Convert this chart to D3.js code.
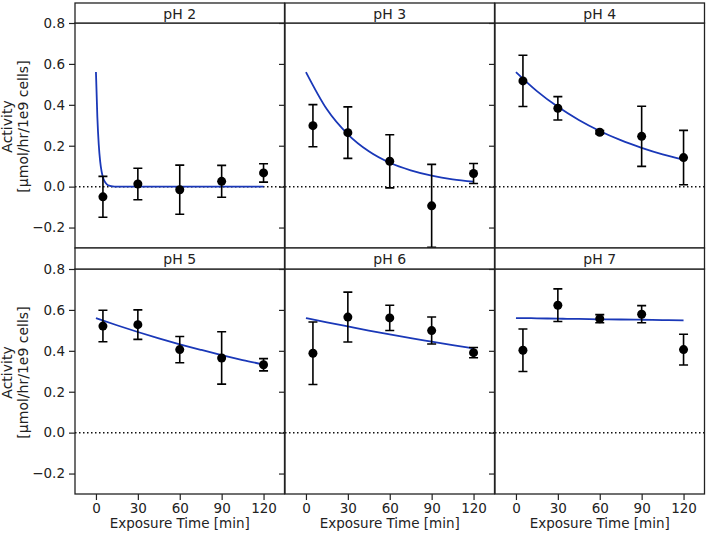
<!DOCTYPE html>
<html><head><meta charset="utf-8">
<script src="https://cdn.jsdelivr.net/npm/d3@7"></script>
<style>body{margin:0;background:#fff}svg{display:block}text{font-family:"DejaVu Sans",sans-serif;fill:#222}</style>
</head><body>
<script>
const panelTitles = ["pH 2","pH 3","pH 4","pH 5","pH 6","pH 7"];
const times = [5,30,60,90,120];
const meanPH2 = [-0.050,0.013,-0.015,0.026,0.067];
const errPH2  = [0.100,0.077,0.120,0.078,0.045];
const meanPH3 = [0.298,0.264,0.124,-0.094,0.064];
const errPH3  = [0.103,0.126,0.130,0.203,0.049];
const meanPH4 = [0.517,0.383,0.266,0.246,0.142];
const errPH4  = [0.125,0.057,0.008,0.147,0.133];
const meanPH5 = [0.521,0.528,0.406,0.365,0.332];
const errPH5  = [0.077,0.072,0.064,0.128,0.030];
const meanPH6 = [0.388,0.565,0.561,0.499,0.391];
const errPH6  = [0.153,0.122,0.062,0.066,0.025];
const meanPH7 = [0.403,0.623,0.557,0.579,0.406];
const errPH7  = [0.104,0.080,0.020,0.042,0.075];

const fitTimesFast = [0,1,2,3,4,5,6,8,10,12,15,20,30,60,90,120];
const fitPH2 = [0.56,0.34,0.206,0.125,0.076,0.046,0.028,0.010,0.004,0.0014,0.0003,0,0,0,0,0];
const fitTimes = [0,15,30,45,60,75,90,105,120];
const fitPH3 = [0.56,0.378,0.256,0.173,0.117,0.080,0.054,0.036,0.025];
const fitPH4 = [0.56,0.467,0.39,0.326,0.272,0.227,0.19,0.158,0.132];
const fitPH5 = [0.56,0.525,0.492,0.461,0.432,0.405,0.379,0.355,0.333];
const fitPH6 = [0.56,0.539,0.519,0.499,0.48,0.462,0.445,0.428,0.412];
const fitPH7 = [0.56,0.559,0.557,0.556,0.554,0.553,0.552,0.550,0.549];

const yTicks = [-0.2,0,0.2,0.4,0.6,0.8];
const xTicks = [0,30,60,90,120];

const means = [meanPH2,meanPH3,meanPH4,meanPH5,meanPH6,meanPH7];
const errs = [errPH2,errPH3,errPH4,errPH5,errPH6,errPH7];
const fits = [fitPH2,fitPH3,fitPH4,fitPH5,fitPH6,fitPH7];
const fitXs = [fitTimesFast,fitTimes,fitTimes,fitTimes,fitTimes,fitTimes];

const W=708,H=534;
const svg=d3.select("body").append("svg").attr("width",W).attr("height",H);
const colX=[75,285,495], pw=209.5;
const rowStrip=[3,248], rowTop=[23,269], ph=225;

panelTitles.forEach((title,i)=>{
  const c=i%3, r=Math.floor(i/3);
  const x0=colX[c], y0=rowTop[r];
  const x=d3.scaleLinear().domain([-15,135]).range([x0,x0+pw]);
  const y=d3.scaleLinear().domain([-0.3,0.8]).range([y0+ph,y0]);
  const g=svg.append("g");
  const cid="clip"+i;
  svg.append("clipPath").attr("id",cid).append("rect").attr("x",x0).attr("y",y0).attr("width",pw).attr("height",ph);
  const ya=g.append("g").attr("transform",`translate(${x0},0)`)
    .call(d3.axisLeft(y).tickValues(yTicks).tickSize(6).tickPadding(4).tickFormat(c===0?d3.format(".1f"):()=>""));
  ya.select(".domain").remove();
  ya.selectAll("line").attr("stroke","#222").attr("stroke-width",1.2);
  ya.selectAll("text").attr("font-size",13.5).attr("fill","#222").style("font-family","DejaVu Sans");
  if(r===1){
    const xa=g.append("g").attr("transform",`translate(0,${y0+ph})`)
      .call(d3.axisBottom(x).tickValues(xTicks).tickSize(6).tickPadding(3));
    xa.select(".domain").remove();
    xa.selectAll("line").attr("stroke","#222").attr("stroke-width",1.2);
    xa.selectAll("text").attr("font-size",13.5).attr("fill","#222").style("font-family","DejaVu Sans");
    g.append("text").attr("x",x0+pw/2).attr("y",528).attr("text-anchor","middle").attr("font-size",13.5).text("Exposure Time [min]");
  }
  const pg=g.append("g").attr("clip-path",`url(#${cid})`);
  pg.append("line").attr("x1",x0).attr("x2",x0+pw).attr("y1",y(0)).attr("y2",y(0))
    .attr("stroke","#111").attr("stroke-width",1.5).attr("stroke-dasharray","1.5,2.5");
  const fx=fitXs[i], fv=fits[i];
  const line=d3.line().x((d,j)=>x(fx[j])).y(d=>y(d)).curve(d3.curveMonotoneX);
  pg.append("path").attr("d",line(fv)).attr("fill","none").attr("stroke","#1a38b8").attr("stroke-width",1.8);
  times.forEach((t,j)=>{
    const m=means[i][j], e=errs[i][j];
    const cx=x(t);
    pg.append("line").attr("x1",cx).attr("x2",cx).attr("y1",y(m-e)).attr("y2",y(m+e)).attr("stroke","#000").attr("stroke-width",1.6);
    [m-e,m+e].forEach(v=>pg.append("line").attr("x1",cx-4.5).attr("x2",cx+4.5).attr("y1",y(v)).attr("y2",y(v)).attr("stroke","#000").attr("stroke-width",1.6));
    pg.append("circle").attr("cx",cx).attr("cy",y(m)).attr("r",4.5).attr("fill","#000");
  });
  g.append("rect").attr("x",x0).attr("y",y0).attr("width",pw).attr("height",ph).attr("fill","none").attr("stroke","#222").attr("stroke-width",1.3);
  g.append("rect").attr("x",x0).attr("y",rowStrip[r]).attr("width",pw).attr("height",rowTop[r]-rowStrip[r]).attr("fill","#fff").attr("stroke","#222").attr("stroke-width",1.3);
  g.append("text").attr("x",x0+pw/2).attr("y",rowStrip[r]+15.5).attr("text-anchor","middle").attr("font-size",14).text(title);
  if(c===0){
    const cy=y0+ph/2-9;
    const lt=g.append("text").attr("transform",`translate(12,${cy}) rotate(-90)`).attr("text-anchor","middle").attr("font-size",14);
    lt.append("tspan").attr("x",0).attr("dy",0).text("Activity");
    lt.append("tspan").attr("x",0).attr("dy",16).text("[µmol/hr/1e9 cells]");
  }
});
</script>
</body></html>
